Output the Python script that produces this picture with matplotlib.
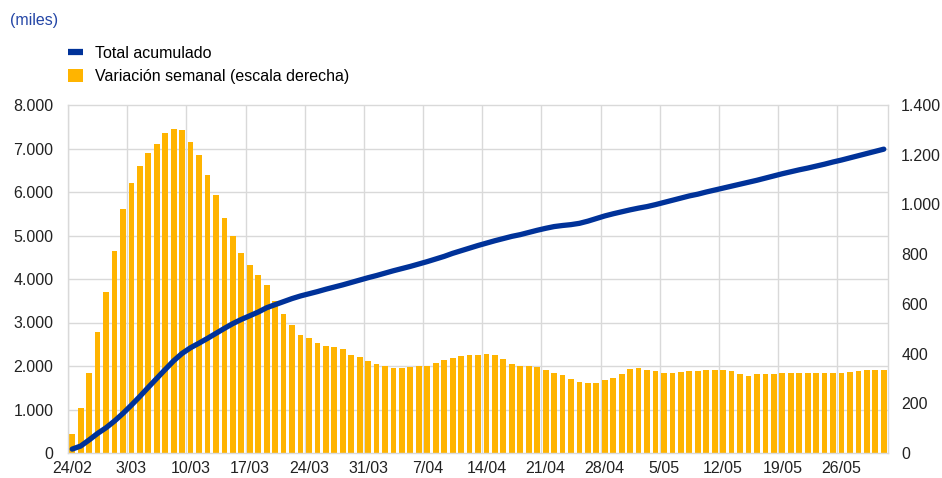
import numpy as np
import matplotlib
matplotlib.use('Agg')
import matplotlib.pyplot as plt
from matplotlib.ticker import FuncFormatter
from matplotlib.lines import Line2D
from matplotlib.patches import Patch

plt.rcParams['font.family'] = ['Liberation Sans', 'DejaVu Sans']
plt.rcParams['font.size'] = 11.5

# one value per day, 24/02 .. 31/05 (miles)
total_acumulado = [
    90, 160, 300, 450, 580, 735, 910, 1100, 1300, 1510,
    1715, 1920, 2120, 2290, 2420, 2525, 2635, 2750, 2865, 2975,
    3070, 3155, 3240, 3340, 3410, 3480, 3550, 3610, 3660, 3710,
    3765, 3815, 3865, 3920, 3975, 4030, 4080, 4135, 4190, 4240,
    4290, 4345, 4400, 4460, 4520, 4590, 4650, 4710, 4770, 4825,
    4880, 4930, 4980, 5020, 5070, 5120, 5165, 5205, 5230, 5250,
    5280, 5330, 5390, 5450, 5500, 5545, 5590, 5630, 5665, 5710,
    5760, 5810, 5860, 5910, 5950, 6000, 6045, 6090, 6135, 6180,
    6225, 6270, 6320, 6370, 6420, 6465, 6510, 6550, 6595, 6640,
    6690, 6735, 6785, 6835, 6885, 6935, 6985,
]
variacion_semanal = [
    78, 180, 321, 487, 648, 812, 983, 1088, 1156, 1208,
    1244, 1288, 1303, 1301, 1251, 1200, 1117, 1039, 945, 871,
    804, 756, 716, 676, 611, 559, 516, 476, 461, 444,
    432, 428, 419, 396, 387, 372, 359, 349, 343, 340,
    347, 351, 352, 363, 375, 381, 391, 396, 396, 400,
    395, 378, 360, 352, 351, 344, 333, 323, 312, 296,
    284, 280, 283, 292, 301, 319, 336, 340, 335, 329,
    323, 323, 324, 329, 329, 335, 333, 332, 328, 316,
    309, 317, 319, 317, 321, 323, 321, 321, 323, 323,
    323, 323, 325, 328, 332, 335, 333,
]
tick_labels = ['24/02', '3/03', '10/03', '17/03', '24/03', '31/03', '7/04',
               '14/04', '21/04', '28/04', '5/05', '12/05', '19/05', '26/05']

blue = '#003299'
yellow = '#ffb400'
grid_col = '#d9d9d9'
txt_col = '#222222'
days = np.arange(len(variacion_semanal))
fmt = FuncFormatter(lambda v, p: f'{v:,.0f}'.replace(',', '.'))

fig = plt.figure(figsize=(9.42, 4.78), dpi=100)
ax = fig.add_axes([68 / 942, 25 / 478, 820 / 942, 348 / 478])

# weekly change: bars on the right-hand scale
ax.bar(days, variacion_semanal, width=0.68, color=yellow, zorder=2)
ax.set_xlim(-0.5, len(days) - 0.5)
ax.set_ylim(0, 1400)
ax.set_yticks(np.arange(0, 1401, 200))
ax.yaxis.set_major_formatter(fmt)

# grid follows the left-hand scale (8 steps) and week boundaries
ax.set_yticks(np.linspace(0, 1400, 9), minor=True)
ax.set_xticks(np.arange(-0.5, len(days), 7), minor=True)
ax.grid(which='minor', color=grid_col, linewidth=1.0, zorder=0)
ax.set_axisbelow(True)
ax.set_xticks(days[::7])
ax.set_xticklabels(tick_labels)
for s in ax.spines.values():
    s.set_color(grid_col)
    s.set_linewidth(1.0)

# cumulative total on the left-hand scale
ax_l = ax.twinx()
ax_l.plot(days, total_acumulado, color=blue, linewidth=3.8,
          solid_capstyle='round', solid_joinstyle='round', zorder=3)
ax_l.set_ylim(0, 8000)
ax_l.set_yticks(np.arange(0, 8001, 1000))
ax_l.yaxis.set_major_formatter(fmt)
for s in ax_l.spines.values():
    s.set_visible(False)

# twinx swaps the sides, so set them afterwards
ax.yaxis.tick_right()
ax_l.yaxis.tick_left()
ax.tick_params(which='both', length=0)
ax.tick_params(axis='y', pad=9.5, colors=txt_col)
ax.tick_params(axis='x', pad=5.5, colors=txt_col)
ax_l.tick_params(length=0, pad=10.5, colors=txt_col)

fig.text(10 / 942, 1 - 20 / 478, '(miles)', color='#2446a6', fontsize=11.5, va='center')

handles = [Line2D([0], [0], color=blue, linewidth=4.5, solid_capstyle='butt'),
           Patch(facecolor=yellow, edgecolor='none')]
labels = ['Total acumulado', 'Variación semanal (escala derecha)']
fig.legend(handles, labels, loc='upper left', bbox_to_anchor=(68 / 942, 1 - 46 / 478),
           frameon=False, borderpad=0, borderaxespad=0, handlelength=0.95,
           handleheight=0.9, handletextpad=0.75, labelspacing=0.5, fontsize=11.5)

fig.savefig('out.png', dpi=100)
